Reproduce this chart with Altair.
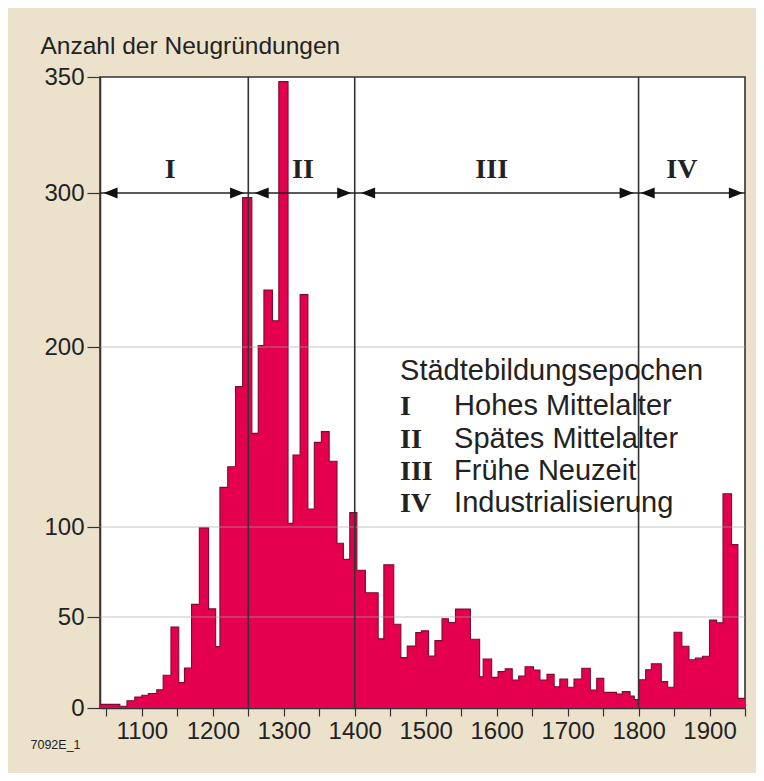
import altair as alt
import pandas as pd

# ---- data ----
edges = [1041, 1050, 1060, 1069, 1079, 1090, 1100, 1109, 1121, 1130,
         1141, 1152, 1160, 1170, 1181, 1194, 1204, 1210, 1221, 1232,
         1242, 1255, 1264, 1272, 1284, 1293, 1306, 1313, 1323, 1334,
         1343, 1353, 1364, 1375, 1384, 1393, 1403, 1415, 1424, 1433,
         1441, 1455, 1465, 1474, 1486, 1494, 1504, 1513, 1523, 1532,
         1542, 1553, 1563, 1576, 1581, 1593, 1602, 1612, 1622, 1631,
         1640, 1652, 1661, 1671, 1681, 1689, 1700, 1709, 1720, 1732,
         1741, 1751, 1760, 1769, 1777, 1788, 1794, 1800, 1810, 1818,
         1832, 1841, 1850, 1861, 1871, 1880, 1890, 1900, 1910, 1919,
         1931, 1940, 1950]
counts = [2, 2, 2, 1, 4, 6, 7, 8, 10, 18,
          44.5, 14, 22, 57, 99.5, 54.5, 33.7, 122, 133.5, 178,
          297, 152, 201, 237, 217, 348, 102, 140, 234, 110,
          147, 153, 136.5, 91, 82, 108, 76, 63.5, 63.5, 38,
          79, 46, 27.7, 34, 41.5, 42.4, 28.6, 37, 49, 47,
          54.4, 54.4, 37.8, 17.2, 26.9, 16.8, 20, 21.5, 15.4, 17.6,
          22.7, 20.9, 15.4, 18.5, 11.7, 15.9, 11.4, 15.9, 21.8, 9.9,
          16.3, 8.6, 8.6, 7.7, 9, 6.5, 4.6, 15.5, 21, 24.3,
          14.5, 11.4, 41.6, 33.9, 26.5, 27.4, 28.4, 48.3, 46.8, 118.5,
          90.2, 5.3]

y_ticks = [0, 50, 100, 200, 300, 350]
x_ticks = list(range(1050, 1951, 50))
epoch_bounds = [1250, 1400, 1800]
grid_levels = [50, 100, 200]
arrow_level = [300]
epoch_labels = ["I", "II", "III", "IV"]
epoch_label_x = [1140, 1327, 1593, 1861]
arrow_tips = [1046, 1244, 1259, 1395, 1409, 1793, 1803, 1947]
arrow_dirs = ["left", "right", "left", "right", "left", "right", "left", "right"]
legend_title = "Städtebildungsepochen"
legend_names = ["Hohes Mittelalter", "Spätes Mittelalter", "Frühe Neuzeit", "Industrialisierung"]
legend_rows_y = [162.2, 143.9, 126.1, 108.3]

# ---- layout ----
W, H = 645, 631
RED = "#E4004F"
DARK = "#333333"
SANS = "Liberation Sans"
SERIF = "Liberation Serif"

xscale = alt.Scale(domain=[1041, 1950], nice=False, zero=False)
yscale = alt.Scale(domain=y_ticks, range=[631, 540, 450, 270, 116, 0], nice=False, zero=False)

profile = pd.DataFrame({"x": edges, "y": counts + [counts[-1]], "zero": 0})

xaxis = alt.Axis(values=x_ticks, tickCount=200,
                 labelExpr="datum.value % 100 == 0 ? '' + datum.value : ''",
                 grid=False, tickSize=8, tickColor=DARK, tickWidth=1.2, domainColor=DARK,
                 domainWidth=1.5, labelFont=SANS, labelFontSize=24, labelColor="#222",
                 labelPadding=3, labelOverlap=False, labelFlush=False,
                 title="7092E_1", titleX=-70, titleY=40, titleAlign="left",
                 titleBaseline="alphabetic", titleFont=SANS, titleFontSize=12.5,
                 titleFontWeight="normal", titleColor="#222")
yaxis = alt.Axis(values=y_ticks, tickCount=50, format="d", grid=False, tickSize=13,
                 tickColor=DARK, tickWidth=1.2, domainColor=DARK, domainWidth=1.5,
                 labelFont=SANS, labelFontSize=24, labelColor="#222", labelPadding=3,
                 labelOverlap=False, labelFlush=False,
                 title="Anzahl der Neugründungen", titleAngle=0, titleAlign="left",
                 titleBaseline="alphabetic", titleX=-60, titleY=-24, titleFont=SANS,
                 titleFontSize=24.5, titleFontWeight="normal", titleColor="#222")

fill = alt.Chart(profile).mark_area(interpolate="step-after", color=RED, opacity=1).encode(
    x=alt.X("x:Q", scale=xscale, axis=xaxis),
    y=alt.Y("y:Q", scale=yscale, axis=yaxis),
    y2="zero:Q",
)

line = alt.Chart(profile).mark_line(interpolate="step-after", color="#7A0C2E",
                                    strokeWidth=1.1).encode(
    x=alt.X("x:Q", scale=xscale),
    y=alt.Y("y:Q", scale=yscale),
)

grid = alt.Chart(pd.DataFrame({"y": grid_levels})).mark_rule(
    color="#a8a8a8", opacity=0.65, strokeWidth=1.2).encode(
    y=alt.Y("y:Q", scale=yscale))

epochs = alt.Chart(pd.DataFrame({"x": epoch_bounds})).mark_rule(
    color=DARK, strokeWidth=1.6).encode(
    x=alt.X("x:Q", scale=xscale))

arrow_line = alt.Chart(pd.DataFrame({"y": arrow_level})).mark_rule(
    color="#222", strokeWidth=1.3).encode(
    y=alt.Y("y:Q", scale=yscale))

heads = alt.Chart(pd.DataFrame({"x": arrow_tips, "dir": arrow_dirs, "y": 300})).mark_point(
    filled=True, opacity=1, color="#111", size=784).encode(
    x=alt.X("x:Q", scale=xscale),
    y=alt.Y("y:Q", scale=yscale),
    shape=alt.Shape("dir:N", legend=None,
                    scale=alt.Scale(domain=["left", "right"],
                                    range=["M0,0L1,-0.4L1,0.4Z", "M0,0L-1,-0.4L-1,0.4Z"])),
)

numerals = alt.Chart(pd.DataFrame({"x": epoch_label_x, "t": epoch_labels, "y": 306.5})).mark_text(
    font=SERIF, fontWeight="bold", fontSize=28, color="#222", align="center",
    baseline="alphabetic").encode(
    x=alt.X("x:Q", scale=xscale),
    y=alt.Y("y:Q", scale=yscale),
    text="t:N")

leg_title = alt.Chart(pd.DataFrame({"x": [1463.9], "y": [181.7], "t": [legend_title]})).mark_text(
    font=SANS, fontSize=29, color="#222", align="left", baseline="alphabetic").encode(
    x=alt.X("x:Q", scale=xscale),
    y=alt.Y("y:Q", scale=yscale),
    text="t:N")

leg_num = alt.Chart(pd.DataFrame({"x": 1463.9, "y": legend_rows_y, "t": epoch_labels})).mark_text(
    font=SERIF, fontWeight="bold", fontSize=28, color="#222", align="left",
    baseline="alphabetic").encode(
    x=alt.X("x:Q", scale=xscale),
    y=alt.Y("y:Q", scale=yscale),
    text="t:N")

leg_txt = alt.Chart(pd.DataFrame({"x": 1540, "y": legend_rows_y, "t": legend_names})).mark_text(
    font=SANS, fontSize=29, color="#222", align="left", baseline="alphabetic").encode(
    x=alt.X("x:Q", scale=xscale),
    y=alt.Y("y:Q", scale=yscale),
    text="t:N")

chart = alt.layer(fill, line, grid, epochs, arrow_line, heads, numerals,
                  leg_title, leg_num, leg_txt).properties(
    width=W, height=H,
    background="#ECE2CC",
    autosize=alt.AutoSizeParams(type="none"),
    padding={"left": 92, "top": 69, "right": 11, "bottom": 65},
).configure_view(fill="white", stroke=DARK, strokeWidth=1.6)

chart.save("out.html", embed_options={"renderer": "svg", "actions": False})
